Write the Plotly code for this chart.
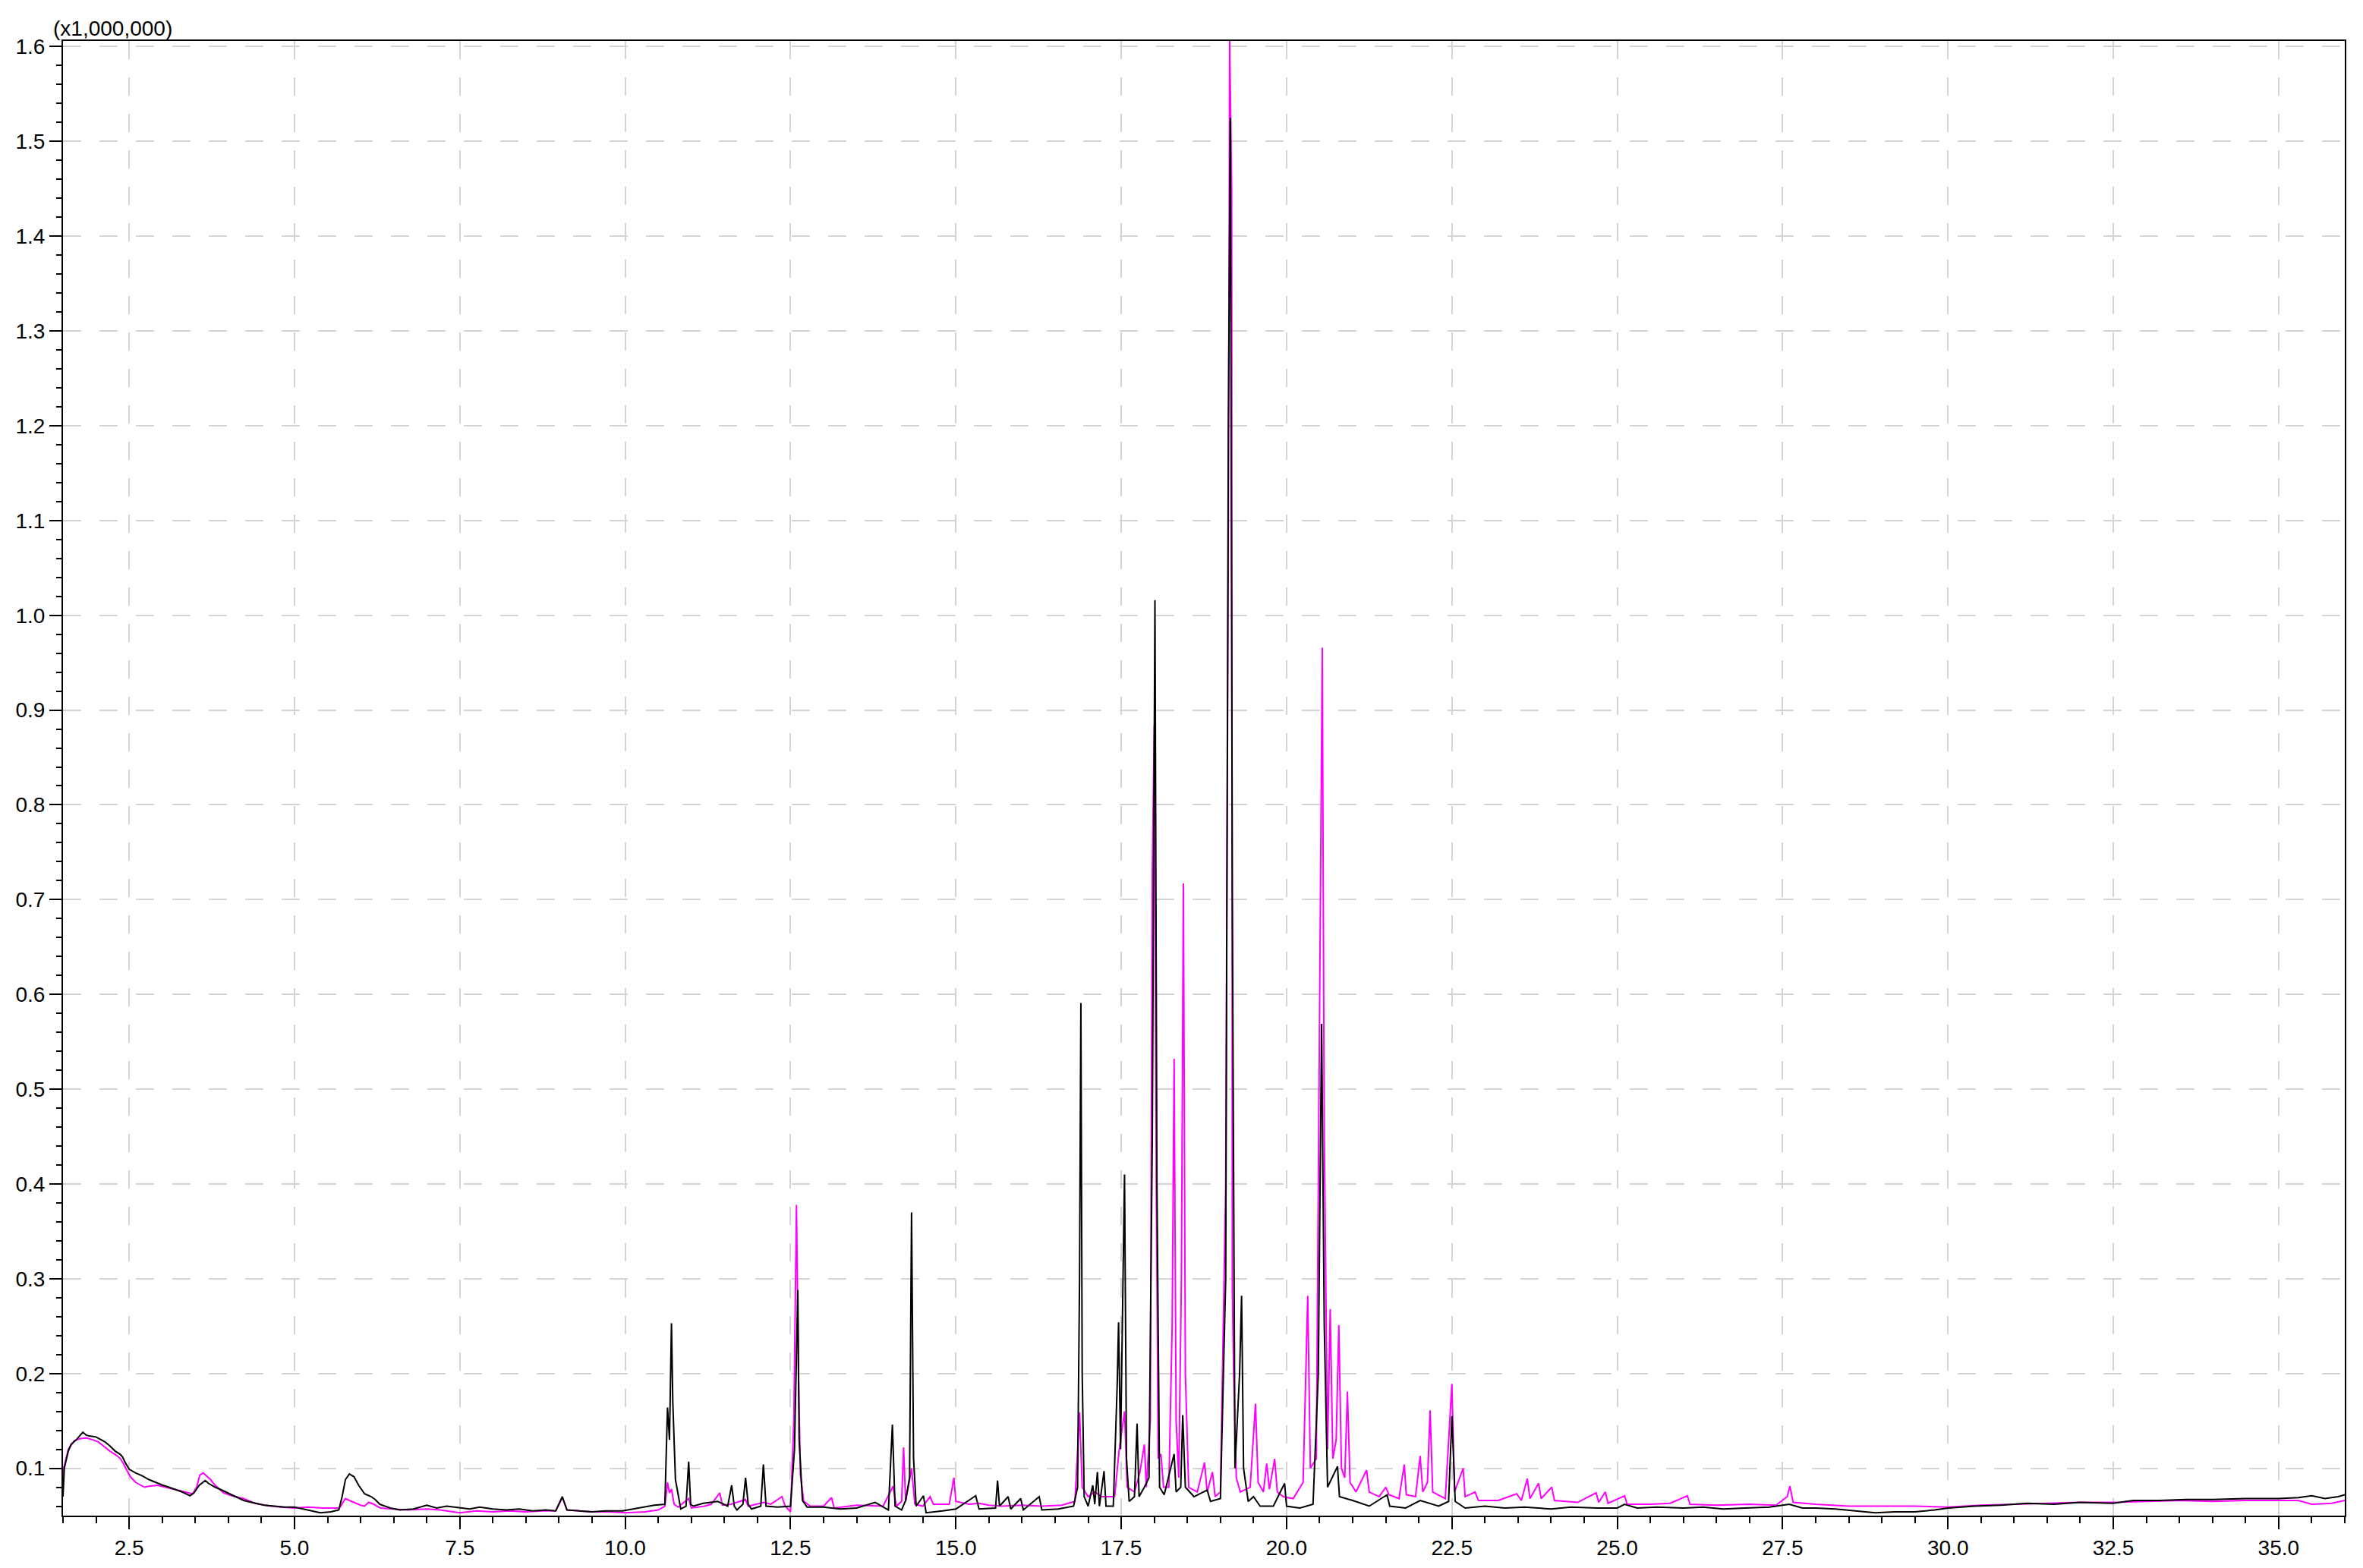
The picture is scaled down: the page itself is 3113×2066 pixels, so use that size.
import plotly.graph_objects as go

# Chromatogram: (retention time [min], intensity [x1,000,000])

black_points = [
    (1.50, 0.070), (1.52, 0.100), (1.58, 0.118), (1.62, 0.125), (1.70, 0.130),
    (1.78, 0.136), (1.80, 0.138), (1.85, 0.135), (1.90, 0.134), (2.00, 0.133),
    (2.05, 0.131), (2.13, 0.128), (2.20, 0.124), (2.29, 0.118), (2.36, 0.115),
    (2.40, 0.112), (2.44, 0.106), (2.50, 0.099), (2.60, 0.095), (2.70, 0.092),
    (2.80, 0.088), (2.90, 0.085), (3.01, 0.082), (3.10, 0.080), (3.21, 0.077),
    (3.30, 0.075), (3.42, 0.071), (3.48, 0.074), (3.56, 0.082), (3.65, 0.087),
    (3.70, 0.084), (3.80, 0.080), (3.93, 0.076), (4.05, 0.072), (4.23, 0.066),
    (4.35, 0.064), (4.54, 0.061), (4.70, 0.060), (4.85, 0.059), (5.00, 0.059),
    (5.20, 0.056), (5.39, 0.053), (5.55, 0.054), (5.67, 0.056), (5.72, 0.070),
    (5.77, 0.088), (5.83, 0.094), (5.90, 0.091), (5.97, 0.082), (6.06, 0.073),
    (6.16, 0.070), (6.22, 0.067), (6.29, 0.062), (6.45, 0.058), (6.59, 0.056),
    (6.80, 0.057), (7.00, 0.061), (7.15, 0.058), (7.30, 0.060), (7.50, 0.058),
    (7.65, 0.057), (7.80, 0.059), (8.00, 0.057), (8.20, 0.056), (8.40, 0.057),
    (8.60, 0.055), (8.80, 0.056), (8.95, 0.055), (9.05, 0.070), (9.12, 0.056),
    (9.30, 0.055), (9.50, 0.054), (9.70, 0.055), (9.96, 0.055), (10.20, 0.058),
    (10.44, 0.061), (10.60, 0.062), (10.64, 0.164), (10.67, 0.130), (10.70, 0.253),
    (10.72, 0.170), (10.76, 0.088), (10.84, 0.057), (10.92, 0.060), (10.96, 0.107),
    (10.99, 0.062), (11.03, 0.060), (11.18, 0.063), (11.40, 0.065), (11.55, 0.060),
    (11.61, 0.082), (11.65, 0.060), (11.69, 0.056), (11.78, 0.062), (11.82, 0.090),
    (11.86, 0.062), (11.91, 0.057), (12.05, 0.060), (12.09, 0.104), (12.13, 0.060),
    (12.30, 0.059), (12.50, 0.060), (12.56, 0.120), (12.61, 0.288), (12.63, 0.130),
    (12.68, 0.066), (12.75, 0.059), (13.00, 0.059), (13.25, 0.057), (13.50, 0.058),
    (13.78, 0.064), (13.98, 0.056), (14.04, 0.146), (14.08, 0.060), (14.18, 0.056),
    (14.24, 0.066), (14.30, 0.090), (14.33, 0.370), (14.36, 0.110), (14.40, 0.060),
    (14.51, 0.071), (14.55, 0.053), (14.80, 0.055), (15.00, 0.057), (15.30, 0.071),
    (15.35, 0.057), (15.60, 0.058), (15.63, 0.087), (15.66, 0.060), (15.79, 0.070),
    (15.83, 0.057), (15.98, 0.068), (16.02, 0.056), (16.26, 0.070), (16.30, 0.056),
    (16.55, 0.057), (16.78, 0.060), (16.84, 0.080), (16.87, 0.300), (16.89, 0.591),
    (16.91, 0.200), (16.94, 0.070), (17.00, 0.060), (17.07, 0.082), (17.10, 0.062),
    (17.14, 0.096), (17.17, 0.060), (17.24, 0.097), (17.27, 0.060), (17.38, 0.060),
    (17.44, 0.190), (17.46, 0.254), (17.49, 0.120), (17.55, 0.410), (17.58, 0.110),
    (17.62, 0.065), (17.70, 0.070), (17.74, 0.147), (17.77, 0.070), (17.85, 0.080),
    (17.92, 0.090), (17.97, 0.450), (18.01, 1.016), (18.04, 0.400), (18.08, 0.080),
    (18.15, 0.072), (18.30, 0.115), (18.33, 0.075), (18.40, 0.080), (18.43, 0.156),
    (18.47, 0.080), (18.60, 0.070), (18.80, 0.077), (18.85, 0.065), (19.00, 0.068),
    (19.08, 0.300), (19.12, 1.200), (19.15, 1.525), (19.18, 0.700), (19.22, 0.100),
    (19.29, 0.200), (19.32, 0.282), (19.35, 0.100), (19.42, 0.065), (19.50, 0.070),
    (19.60, 0.060), (19.80, 0.060), (19.97, 0.084), (20.00, 0.060), (20.20, 0.058),
    (20.40, 0.062), (20.48, 0.200), (20.53, 0.569), (20.57, 0.250), (20.62, 0.080),
    (20.77, 0.102), (20.80, 0.070), (21.00, 0.066), (21.25, 0.060), (21.52, 0.072),
    (21.56, 0.060), (21.80, 0.058), (22.02, 0.066), (22.30, 0.060), (22.45, 0.065),
    (22.50, 0.155), (22.55, 0.065), (22.70, 0.058), (23.00, 0.060), (23.30, 0.058),
    (23.60, 0.059), (24.00, 0.057), (24.30, 0.059), (24.70, 0.058), (25.00, 0.058),
    (25.11, 0.062), (25.30, 0.058), (25.60, 0.059), (26.00, 0.058), (26.30, 0.059),
    (26.60, 0.057), (27.00, 0.058), (27.30, 0.059), (27.60, 0.062), (27.80, 0.058),
    (28.00, 0.058), (28.30, 0.057), (28.60, 0.055), (28.90, 0.053), (29.20, 0.054),
    (29.50, 0.054), (29.80, 0.056), (30.00, 0.058), (30.40, 0.060), (30.80, 0.061),
    (31.20, 0.063), (31.60, 0.062), (32.00, 0.064), (32.50, 0.063), (32.80, 0.066),
    (33.20, 0.066), (33.60, 0.067), (34.00, 0.067), (34.50, 0.068), (35.00, 0.068),
    (35.30, 0.069), (35.50, 0.071), (35.70, 0.068), (35.90, 0.070), (36.00, 0.072),
]

magenta_points = [
    (1.50, 0.080), (1.51, 0.100), (1.58, 0.120), (1.67, 0.129), (1.75, 0.131),
    (1.85, 0.132), (1.95, 0.130), (2.03, 0.128), (2.12, 0.123), (2.21, 0.118),
    (2.30, 0.114), (2.37, 0.110), (2.42, 0.104), (2.47, 0.097), (2.53, 0.090),
    (2.60, 0.085), (2.73, 0.080), (2.80, 0.081), (2.93, 0.082), (3.05, 0.080),
    (3.21, 0.077), (3.35, 0.075), (3.46, 0.073), (3.52, 0.080), (3.57, 0.093),
    (3.62, 0.095), (3.68, 0.091), (3.73, 0.088), (3.80, 0.082), (3.93, 0.074),
    (4.05, 0.071), (4.23, 0.068), (4.40, 0.063), (4.64, 0.060), (4.80, 0.059),
    (5.00, 0.058), (5.20, 0.059), (5.42, 0.058), (5.68, 0.058), (5.73, 0.064),
    (5.77, 0.068), (5.83, 0.066), (5.90, 0.064), (6.00, 0.061), (6.06, 0.060),
    (6.12, 0.064), (6.20, 0.062), (6.30, 0.058), (6.50, 0.057), (6.70, 0.056),
    (7.00, 0.057), (7.20, 0.056), (7.50, 0.053), (7.75, 0.055), (8.00, 0.054),
    (8.25, 0.055), (8.50, 0.054), (8.75, 0.055), (8.95, 0.055), (9.05, 0.069),
    (9.12, 0.056), (9.30, 0.055), (9.50, 0.054), (9.75, 0.054), (10.00, 0.053),
    (10.30, 0.054), (10.50, 0.056), (10.60, 0.060), (10.64, 0.085), (10.67, 0.074),
    (10.70, 0.078), (10.74, 0.062), (10.80, 0.059), (10.96, 0.068), (11.00, 0.058),
    (11.20, 0.060), (11.30, 0.062), (11.43, 0.074), (11.47, 0.061), (11.60, 0.062),
    (11.82, 0.067), (11.86, 0.060), (12.10, 0.064), (12.20, 0.062), (12.37, 0.070),
    (12.42, 0.060), (12.50, 0.054), (12.55, 0.150), (12.59, 0.378), (12.62, 0.200),
    (12.65, 0.093), (12.70, 0.065), (12.80, 0.060), (13.00, 0.060), (13.12, 0.069),
    (13.16, 0.058), (13.50, 0.061), (13.90, 0.060), (14.05, 0.081), (14.10, 0.060),
    (14.18, 0.065), (14.21, 0.122), (14.24, 0.065), (14.33, 0.100), (14.38, 0.062),
    (14.50, 0.060), (14.61, 0.070), (14.66, 0.062), (14.90, 0.062), (14.97, 0.090),
    (15.00, 0.065), (15.20, 0.062), (15.35, 0.063), (15.50, 0.061), (15.70, 0.060),
    (16.00, 0.061), (16.30, 0.060), (16.60, 0.061), (16.80, 0.065), (16.87, 0.159),
    (16.91, 0.080), (17.00, 0.070), (17.10, 0.075), (17.20, 0.070), (17.40, 0.070),
    (17.47, 0.120), (17.55, 0.160), (17.59, 0.080), (17.70, 0.075), (17.78, 0.095),
    (17.85, 0.125), (17.88, 0.080), (17.94, 0.150), (17.97, 0.730), (18.00, 0.884),
    (18.03, 0.400), (18.06, 0.110), (18.10, 0.115), (18.14, 0.080), (18.22, 0.080),
    (18.27, 0.250), (18.30, 0.532), (18.33, 0.150), (18.37, 0.090), (18.41, 0.300),
    (18.44, 0.717), (18.47, 0.200), (18.52, 0.080), (18.65, 0.075), (18.76, 0.106),
    (18.80, 0.075), (18.88, 0.096), (18.92, 0.070), (19.00, 0.075), (19.08, 0.400),
    (19.12, 1.100), (19.14, 1.606), (19.17, 1.450), (19.18, 0.289), (19.20, 0.200),
    (19.24, 0.090), (19.30, 0.075), (19.45, 0.080), (19.53, 0.168), (19.57, 0.085),
    (19.65, 0.075), (19.70, 0.105), (19.74, 0.078), (19.82, 0.110), (19.86, 0.075),
    (19.95, 0.070), (20.10, 0.068), (20.25, 0.085), (20.32, 0.282), (20.36, 0.100),
    (20.45, 0.110), (20.50, 0.600), (20.54, 0.966), (20.57, 0.450), (20.62, 0.120),
    (20.66, 0.268), (20.70, 0.110), (20.75, 0.130), (20.79, 0.251), (20.83, 0.100),
    (20.88, 0.090), (20.92, 0.181), (20.96, 0.085), (21.05, 0.075), (21.21, 0.098),
    (21.25, 0.075), (21.40, 0.070), (21.50, 0.080), (21.55, 0.072), (21.70, 0.068),
    (21.78, 0.104), (21.81, 0.072), (21.95, 0.070), (22.02, 0.113), (22.06, 0.075),
    (22.13, 0.085), (22.17, 0.161), (22.21, 0.075), (22.40, 0.068), (22.50, 0.189),
    (22.54, 0.075), (22.67, 0.100), (22.70, 0.070), (22.85, 0.075), (22.90, 0.066),
    (23.20, 0.066), (23.48, 0.073), (23.55, 0.066), (23.64, 0.089), (23.68, 0.068),
    (23.81, 0.084), (23.85, 0.068), (23.89, 0.071), (24.01, 0.080), (24.05, 0.066),
    (24.40, 0.064), (24.68, 0.074), (24.72, 0.064), (24.82, 0.075), (24.86, 0.063),
    (25.11, 0.071), (25.15, 0.062), (25.50, 0.062), (25.80, 0.063), (26.06, 0.071),
    (26.10, 0.062), (26.50, 0.061), (27.00, 0.062), (27.40, 0.061), (27.57, 0.070),
    (27.61, 0.081), (27.66, 0.064), (28.00, 0.062), (28.50, 0.060), (29.00, 0.060),
    (29.50, 0.060), (30.00, 0.059), (30.50, 0.061), (31.00, 0.062), (31.50, 0.063),
    (32.00, 0.064), (32.50, 0.064), (33.00, 0.065), (33.50, 0.066), (34.00, 0.065),
    (34.50, 0.066), (35.00, 0.066), (35.30, 0.066), (35.50, 0.062), (35.80, 0.063),
    (36.00, 0.066),
]

x_range = [1.5, 36.0]
y_range = [0.05, 1.606]
y_unit_label = "(x1,000,000)"

FONT = "Liberation Sans, Arial, sans-serif"
GRID = "#d3d3d3"

fig = go.Figure()

for pts, color in [(magenta_points, "#ff00ff"), (black_points, "#000000")]:
    t, v = zip(*pts)
    fig.add_trace(go.Scatter(
        x=t, y=v,
        mode="lines",
        line=dict(color=color, width=2),
        hoverinfo="skip",
    ))

axis_common = dict(
    showline=True, linecolor="black", linewidth=2, mirror=True,
    ticks="outside", ticklen=16, tickwidth=2, tickcolor="black",
    showgrid=True, gridcolor=GRID, gridwidth=2, griddash="24px,24px",
    zeroline=False,
    tickfont=dict(family=FONT, size=28, color="black"),
    tickformat=".1f",
)

fig.update_xaxes(
    range=x_range, tickmode="linear", tick0=0, dtick=2.5,
    minor=dict(ticks="outside", ticklen=8, tickwidth=2, tickcolor="black",
               dtick=0.5, tick0=0, showgrid=False),
    **axis_common,
)
fig.update_yaxes(
    range=y_range, tickmode="linear", tick0=0, dtick=0.1,
    minor=dict(ticks="outside", ticklen=7, tickwidth=2, tickcolor="black",
               dtick=0.02, tick0=0, showgrid=False),
    **axis_common,
)

fig.add_annotation(
    text=y_unit_label, xref="paper", yref="paper",
    x=-0.0047, y=1.0, xanchor="left", yanchor="bottom",
    showarrow=False, font=dict(family=FONT, size=28, color="black"),
    borderpad=0,
)

fig.update_layout(
    width=3113, height=2066,
    margin=dict(l=83, r=24, t=54, b=69),
    plot_bgcolor="white", paper_bgcolor="white",
    showlegend=False,
)

# drop the browser's default body margin so the figure sits at the page corner
fig.write_html(
    "out.html",
    config={"displayModeBar": False},
    post_script="document.body.style.margin='0';",
)
